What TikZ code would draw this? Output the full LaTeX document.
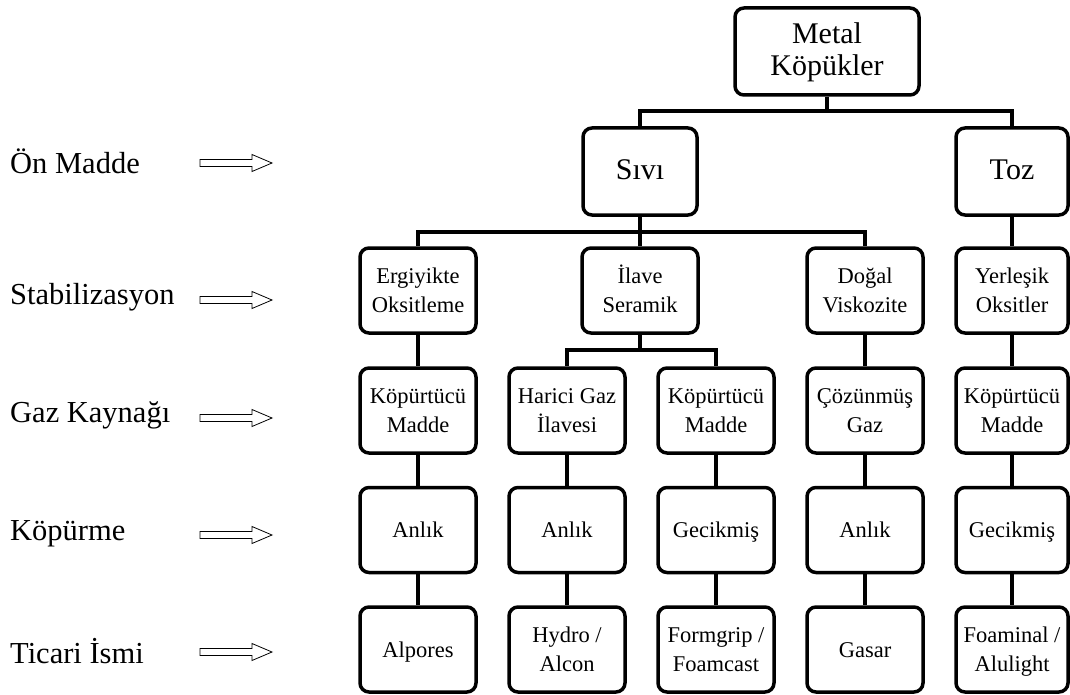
\documentclass[tikz,border=0pt]{standalone}
\usepackage{fontspec}
\setmainfont{Liberation Serif}
\newcommand\bxs{\rule[-5.5pt]{0pt}{26pt}}
\newcommand\bgs{\rule[-6.5pt]{0pt}{30pt}}
\begin{document}
\begin{tikzpicture}[x=1pt,y=-1pt,
  box/.style={draw, line width=3.5pt, rounded corners=9pt, minimum width=116pt, minimum height=85pt, inner sep=0pt, align=center, font=\fontsize{22.5}{29}\selectfont},
  narrow/.style={minimum width=112pt},
  big/.style={minimum height=87pt, font=\fontsize{30}{32}\selectfont},
  conn/.style={line width=3.5pt},
  lbl/.style={anchor=west, inner sep=0pt, font=\fontsize{30.5}{34}\selectfont},
  hollowarrow/.pic={\draw[line width=0.8pt, fill=white] (0,-3.5) -- (52,-3.5) -- (52,-8.5) -- (72,0) -- (52,8.5) -- (52,3.5) -- (0,3.5) -- cycle;}
]
\useasboundingbox (0,0) rectangle (1070,695);

% left labels
\node[lbl] (l1) at (10,161) {Ön Madde};
\node[lbl] (l2) at (10,297) {Stabilizasyon};
\node[lbl] (l3) at (10,415) {Gaz Kaynağı};
\node[lbl] (l4) at (10,534) {Köpürme};
\node[lbl] (l5) at (10,651) {Ticari İsmi};
\pic at (200,163) {hollowarrow};
\pic at (200,300) {hollowarrow};
\pic at (200,418) {hollowarrow};
\pic at (200,535) {hollowarrow};
\pic at (200,652) {hollowarrow};

% tree
\node[box, big, minimum width=184pt] (root) at (827,51.5) {\bgs Metal\\\bgs Köpükler};
\node[box, big, minimum width=114pt] (sivi) at (640,171.5) {\bgs Sıvı};
\node[box, big, narrow] (toz) at (1012,171.5) {\bgs Toz};

\node[box] (erg) at (418,290.5) {\bxs Ergiyikte\\\bxs Oksitleme};
\node[box] (ilave) at (640,290.5) {\bxs İlave\\\bxs Seramik};
\node[box] (dogal) at (865,290.5) {\bxs Doğal\\\bxs Viskozite};
\node[box, narrow] (yer) at (1012,290.5) {\bxs Yerleşik\\\bxs Oksitler};

\node[box] (kop1) at (418,410.5) {\bxs Köpürtücü\\\bxs Madde};
\node[box] (har) at (567,410.5) {\bxs Harici Gaz\\\bxs İlavesi};
\node[box] (kop2) at (716,410.5) {\bxs Köpürtücü\\\bxs Madde};
\node[box] (coz) at (865,410.5) {\bxs Çözünmüş\\\bxs Gaz};
\node[box, narrow] (kop3) at (1012,410.5) {\bxs Köpürtücü\\\bxs Madde};

\node[box] (an1) at (418,530) {\bxs Anlık};
\node[box] (an2) at (567,530) {\bxs Anlık};
\node[box] (gec1) at (716,530) {\bxs Gecikmiş};
\node[box] (an3) at (865,530) {\bxs Anlık};
\node[box, narrow] (gec2) at (1012,530) {\bxs Gecikmiş};

\node[box] (alp) at (418,649.5) {\bxs Alpores};
\node[box] (hyd) at (567,649.5) {\bxs Hydro /\\\bxs Alcon};
\node[box] (form) at (716,649.5) {\bxs Formgrip /\\\bxs Foamcast};
\node[box] (gas) at (865,649.5) {\bxs Gasar};
\node[box, narrow] (foam) at (1012,649.5) {\bxs Foaminal /\\\bxs Alulight};

% connectors
\coordinate (bus0) at (827,111);
\draw[conn] (root.south) -- (bus0) -| (sivi.north);
\draw[conn] (bus0) -| (toz.north);

\coordinate (bus1) at (640,232);
\draw[conn] (sivi.south) -- (bus1) -| (erg.north);
\draw[conn] (bus1) -- (ilave.north);
\draw[conn] (bus1) -| (dogal.north);
\draw[conn] (toz.south) -- (yer.north);

\coordinate (bus2) at (640,350);
\draw[conn] (ilave.south) -- (bus2) -| (har.north);
\draw[conn] (bus2) -| (kop2.north);
\draw[conn] (erg.south) -- (kop1.north);
\draw[conn] (dogal.south) -- (coz.north);
\draw[conn] (yer.south) -- (kop3.north);

\draw[conn] (kop1.south) -- (an1.north);
\draw[conn] (har.south) -- (an2.north);
\draw[conn] (kop2.south) -- (gec1.north);
\draw[conn] (coz.south) -- (an3.north);
\draw[conn] (kop3.south) -- (gec2.north);

\draw[conn] (an1.south) -- (alp.north);
\draw[conn] (an2.south) -- (hyd.north);
\draw[conn] (gec1.south) -- (form.north);
\draw[conn] (an3.south) -- (gas.north);
\draw[conn] (gec2.south) -- (foam.north);
\end{tikzpicture}
\end{document}
